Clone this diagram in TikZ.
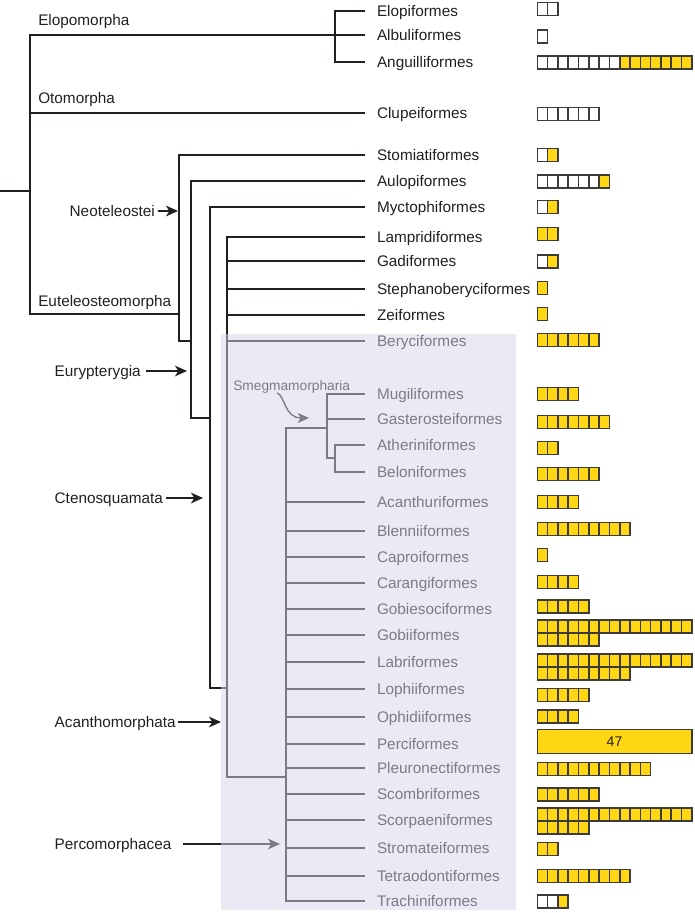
\documentclass[tikz,border=0pt]{standalone}
\usepackage{fontspec}
\setmainfont{Liberation Sans}
\usetikzlibrary{arrows.meta}
\definecolor{treeline}{RGB}{35,31,32}
\definecolor{byellow}{RGB}{255,215,20}
\definecolor{boxedge}{RGB}{60,58,58}
\definecolor{overlaycol}{RGB}{213,213,236}
\tikzset{
  branch/.style={draw=treeline, line width=1pt},
  taxon/.style={anchor=west, inner xsep=0pt, inner ysep=0pt, outer xsep=9pt, outer ysep=0pt,
    text height=8.2pt, text depth=0pt, font=\fontsize{11.5}{13}\selectfont, text=treeline},
  clade/.style={anchor=base west, inner sep=0pt, font=\fontsize{11.5}{13}\selectfont, text=treeline},
  arrlab/.style={anchor=west, inner xsep=0pt, inner ysep=0pt, outer xsep=2pt, outer ysep=0pt,
    text height=8.2pt, text depth=0pt, font=\fontsize{11.5}{13}\selectfont, text=treeline},
  pointer/.style={draw=treeline, line width=1pt, -{Stealth[length=9pt,width=8pt,inset=2.5pt]}},
  cell/.style={draw=boxedge, line width=1.2pt},
}
\newcommand\boxrow[3]{%
  \pgfmathtruncatemacro\ntot{#2+#3}%
  \foreach \i in {1,...,\ntot}{%
    \ifnum\i>#2\relax\def\bfill{byellow}\else\def\bfill{white}\fi
    \draw[cell, fill=\bfill] ({537.3+(\i-1)*10.3},{#1-6.5}) rectangle ++(10.3,13);
  }%
}
\begin{document}
\begin{tikzpicture}[x=0.75pt,y=-0.75pt]
\useasboundingbox (0,0) rectangle (694,913);

% vertical positions of internal nodes
\coordinate (vRoot) at (30,0);
\coordinate (vElo) at (335,0);
\coordinate (vEut) at (179,0);
\coordinate (vEur) at (191,0);
\coordinate (vCte) at (210,0);
\coordinate (vAca) at (227,0);
\coordinate (vPer) at (286,0);
\coordinate (vSme) at (327,0);
\coordinate (vAth) at (335,0);
\coordinate (stem) at (0,191);
\coordinate (eutN) at (179,314);
\coordinate (eurN) at (191,341);
\coordinate (cteN) at (210,418);
\coordinate (acaN) at (227,688);
\coordinate (perN) at (286,777);
\coordinate (smeN) at (327,428);
\coordinate (athN) at (335,458);

% taxon labels
\node[taxon] (elo) at (365,11) {Elopiformes};
\node[taxon] (alb) at (365,35) {Albuliformes};
\node[taxon] (ang) at (365,62) {Anguilliformes};
\node[taxon] (clu) at (365,113) {Clupeiformes};
\node[taxon] (sto) at (365,155) {Stomiatiformes};
\node[taxon] (aul) at (365,181) {Aulopiformes};
\node[taxon] (myc) at (365,207) {Myctophiformes};
\node[taxon] (lam) at (365,237) {Lampridiformes};
\node[taxon] (gad) at (365,261) {Gadiformes};
\node[taxon] (ste) at (365,289) {Stephanoberyciformes};
\node[taxon] (zei) at (365,315) {Zeiformes};
\node[taxon] (ber) at (365,341) {Beryciformes};
\node[taxon] (mug) at (365,394) {Mugiliformes};
\node[taxon] (gas) at (365,419) {Gasterosteiformes};
\node[taxon] (ath) at (365,445) {Atheriniformes};
\node[taxon] (bel) at (365,472) {Beloniformes};
\node[taxon] (aca) at (365,502) {Acanthuriformes};
\node[taxon] (ble) at (365,531) {Blenniiformes};
\node[taxon] (cap) at (365,557) {Caproiformes};
\node[taxon] (car) at (365,583) {Carangiformes};
\node[taxon] (gbs) at (365,609) {Gobiesociformes};
\node[taxon] (gob) at (365,635) {Gobiiformes};
\node[taxon] (lab) at (365,662) {Labriformes};
\node[taxon] (lop) at (365,689) {Lophiiformes};
\node[taxon] (oph) at (365,717) {Ophidiiformes};
\node[taxon] (pcf) at (365,744) {Perciformes};
\node[taxon] (ple) at (365,768) {Pleuronectiformes};
\node[taxon] (sco) at (365,794) {Scombriformes};
\node[taxon] (scp) at (365,820) {Scorpaeniformes};
\node[taxon] (str) at (365,848) {Stromateiformes};
\node[taxon] (tet) at (365,876) {Tetraodontiformes};
\node[taxon] (tra) at (365,901) {Trachiniformes};

% tree
\draw[branch] (stem) -- (vRoot |- stem);
\draw[branch] (alb.west) -- (vRoot |- alb.west) -- (vRoot |- eutN) -- (eutN);
\draw[branch] (vRoot |- clu.west) -- (clu.west);
\draw[branch] (elo.west) -- (vElo |- elo.west) -- (vElo |- ang.west) -- (ang.west);
\draw[branch] (sto.west) -- (vEut |- sto.west) -- (vEut |- eurN) -- (eurN);
\draw[branch] (aul.west) -- (vEur |- aul.west) -- (vEur |- cteN) -- (cteN);
\draw[branch] (myc.west) -- (vCte |- myc.west) -- (vCte |- acaN) -- (acaN);
\draw[branch] (lam.west) -- (vAca |- lam.west) -- (vAca |- perN) -- (perN);
\foreach \n in {gad,ste,zei,ber}{\draw[branch] (vAca |- \n.west) -- (\n.west);}
\draw[branch] (smeN) -- (vPer |- smeN) -- (vPer |- tra.west) -- (tra.west);
\foreach \n in {aca,ble,cap,car,gbs,gob,lab,lop,oph,pcf,ple,sco,scp,str,tet}{\draw[branch] (vPer |- \n.west) -- (\n.west);}
\draw[branch] (mug.west) -- (vSme |- mug.west) -- (vSme |- athN) -- (athN);
\draw[branch] (vSme |- gas.west) -- (gas.west);
\draw[branch] (ath.west) -- (vAth |- ath.west) -- (vAth |- bel.west) -- (bel.west);

% clade labels
\node[clade] (elopo) at (38,26) {Elopomorpha};
\node[clade] (otomo) at (38,104) {Otomorpha};
\node[clade] (eutel) at (38,306) {Euteleosteomorpha};

\node[arrlab] (neo) at (67,211) {Neoteleostei};
\coordinate (neoT) at (178,211);
\draw[pointer] (neo.east) -- (neoT);
\node[arrlab] (eur) at (52,371) {Eurypterygia};
\coordinate (eurT) at (187,371);
\draw[pointer] ([xshift=2pt]eur.east) -- (eurT);
\node[arrlab] (cte) at (52,498) {Ctenosquamata};
\coordinate (cteT) at (203,498);
\draw[pointer] (cte.east) -- (cteT);
\node[arrlab] (acm) at (52,722) {Acanthomorphata};
\coordinate (acmT) at (221,722);
\draw[pointer] (acm.east) -- (acmT);
\node[arrlab] (pcm) at (52,844) {Percomorphacea};
\coordinate (pcmT) at (280,844);
\draw[pointer] ([xshift=7pt]pcm.east) -- (pcmT);

\node[anchor=base west, inner sep=0pt, font=\fontsize{10.3}{12}\selectfont, text=treeline] (smeg) at (233,390) {Smegmamorpharia};
\coordinate (smegS) at (277,393);
\coordinate (smegT) at (309,418);
\draw[draw=treeline, line width=1pt, -{Stealth[length=8.5pt,width=7.5pt,inset=2.3pt]}] (smegS) .. controls (285,395) and (284,418) .. (smegT);

% shaded overlay
\fill[fill=overlaycol, fill opacity=0.5] (221,334) rectangle (516,910);

% character boxes
\boxrow{9}{2}{0}
\boxrow{36.5}{1}{0}
\boxrow{62.5}{8}{7}
\boxrow{114}{6}{0}
\boxrow{155}{1}{1}
\boxrow{181.5}{6}{1}
\boxrow{207}{1}{1}
\boxrow{234}{0}{2}
\boxrow{261.5}{1}{1}
\boxrow{288}{0}{1}
\boxrow{314}{0}{1}
\boxrow{340}{0}{6}
\boxrow{394}{0}{4}
\boxrow{422}{0}{7}
\boxrow{448}{0}{2}
\boxrow{474}{0}{6}
\boxrow{502}{0}{4}
\boxrow{529}{0}{9}
\boxrow{555}{0}{1}
\boxrow{582}{0}{4}
\boxrow{606.7}{0}{5}
\boxrow{626.7}{0}{15}
\boxrow{639.7}{0}{6}
\boxrow{660.7}{0}{15}
\boxrow{673.7}{0}{9}
\boxrow{695}{0}{5}
\boxrow{716.7}{0}{4}
\draw[cell, fill=byellow] (537.3,729.3) rectangle (691.8,753.3);
\node[font=\fontsize{10.5}{12}\selectfont, text=treeline, inner sep=0pt] (n47) at (614.5,741.3) {47};
\boxrow{769}{0}{11}
\boxrow{794.3}{0}{6}
\boxrow{814.3}{0}{15}
\boxrow{827.3}{0}{5}
\boxrow{849}{0}{2}
\boxrow{876}{0}{9}
\boxrow{901.7}{2}{1}
\end{tikzpicture}
\end{document}
